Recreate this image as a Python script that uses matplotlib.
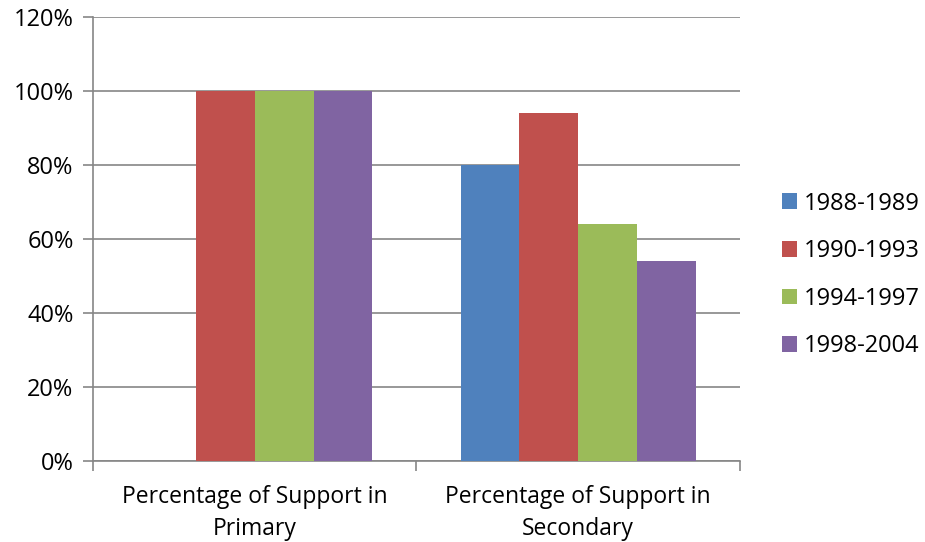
import matplotlib
matplotlib.use("Agg")
from matplotlib import pyplot as plt
import numpy as np

# data
categories = ["Percentage of Support in\nPrimary", "Percentage of Support in\nSecondary"]
periods = ["1988-1989", "1990-1993", "1994-1997", "1998-2004"]
primary = [0, 100, 100, 100]
secondary = [80, 94, 64, 54]
colors = ["#4f81bd", "#c0504d", "#9bbb59", "#8064a2"]
yticks = [0, 20, 40, 60, 80, 100, 120]

plt.rcParams['font.family'] = ['Open Sans', 'DejaVu Sans']

fig = plt.figure(figsize=(9.25, 5.42), dpi=100)
ax = fig.add_axes([93 / 925, 1 - 461 / 542, (740 - 93) / 925, (461 - 17) / 542])

values = np.array([primary, secondary])  # shape (category, period)
x = np.arange(len(categories))
w = 1 / 5.5
for i, p in enumerate(periods):
    off = (i - 1.5) * w
    ax.bar(x + off, values[:, i], width=w, color=colors[i], label=p, zorder=3)

ax.set_xlim(-0.5, 1.5)
ax.set_ylim(0, 120)
ax.set_yticks(yticks)
ax.set_yticklabels([f"{v}%" for v in yticks], fontsize=17)
ax.yaxis.grid(True, color="#868686", linewidth=1.2, zorder=0)

# category labels under centers, tick marks at boundaries
ax.set_xticks([-0.5, 0.5, 1.5])
ax.set_xticklabels([])
ax.tick_params(axis="x", length=7, direction="out", color="#868686", width=1.2)
ax.tick_params(axis="y", length=7, direction="out", color="#868686", width=1.2, pad=7)
for xi, lab in zip(x, categories):
    ax.text(xi, -0.055, lab, transform=ax.get_xaxis_transform(), ha="center", va="top",
            fontsize=16.5, linespacing=1.4)

for s in ["top", "right"]:
    ax.spines[s].set_visible(False)
for s in ["left", "bottom"]:
    ax.spines[s].set_color("#868686")
    ax.spines[s].set_linewidth(1.2)

leg = fig.legend(*ax.get_legend_handles_labels(), loc="center left",
                 bbox_to_anchor=(782 / 925, 1 - 275 / 542), frameon=False, fontsize=17,
                 borderpad=0, borderaxespad=0,
                 handlelength=0.64, handleheight=0.64, handletextpad=0.3, labelspacing=1.0)

fig.savefig("out.png", dpi=100)
